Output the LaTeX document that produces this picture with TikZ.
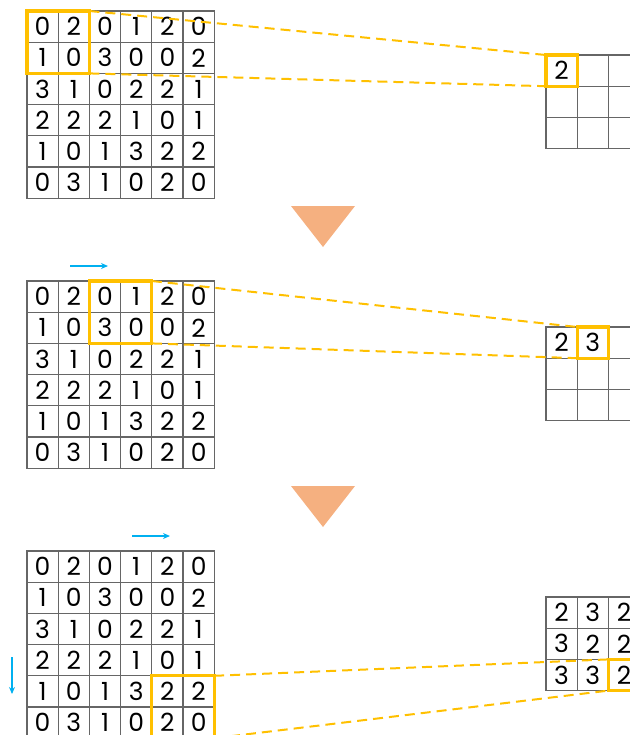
\documentclass[tikz,border=0pt]{standalone}
\usepackage{fontspec}
\setmainfont{Poppins}
\usetikzlibrary{arrows.meta}

\definecolor{winyellow}{RGB}{255,192,0}
\definecolor{slideblue}{RGB}{0,176,240}
\definecolor{peach}{RGB}{245,176,128}

\tikzset{
  cell/.style={draw=gray!80!black, line width=0.55pt, minimum size=15.6pt,
    inner sep=0pt, outer sep=0pt, font=\fontsize{12.5}{14}\selectfont},
  window/.style={draw=winyellow, line width=1.6pt},
  link/.style={draw=winyellow, line width=1pt, dash pattern=on 5pt off 3pt},
  slide/.style={draw=slideblue, line width=1pt, -{Stealth[length=3.5pt,width=3pt]}},
  stepdown/.style={fill=peach},
}

% 6x6 input grid: #1 = name, #2 = top edge
\newcommand{\inputgrid}[2]{%
  \foreach \row [count=\r] in {{0,2,0,1,2,0},{1,0,3,0,0,2},{3,1,0,2,2,1},
                               {2,2,2,1,0,1},{1,0,1,3,2,2},{0,3,1,0,2,0}}
    \foreach \v [count=\c] in \row
      \node[cell] (#1-\r-\c) at ({27+(\c-0.5)*31.2}, {#2+(\r-0.5)*31.2}) {\v};
}

% 3x3 output grid: #1 = name, #2 = top edge, #3 = rows
\newcommand{\outputgrid}[3]{%
  \foreach \row [count=\r] in {#3}
    \foreach \v [count=\c] in \row
      \node[cell] (#1-\r-\c) at ({546+(\c-0.5)*31.2}, {#2+(\r-0.5)*31.2}) {\v};
}

\begin{document}
\begin{tikzpicture}[x=0.5pt, y=-0.5pt]
            \useasboundingbox (0,0) rectangle (630,735);
            \clip (0,0) rectangle (630,735);

            % First step: window at the top left corner
            \inputgrid{in1}{11}
            \outputgrid{out1}{55}{{2,{},{}},{{},{},{}},{{},{},{}}}

            \draw[link] (in1-1-2.north east) -- (out1-1-1.north west);
            \draw[link] (in1-2-2.south east) -- (out1-1-1.south west);
            \draw[window] (in1-1-1.north west) rectangle (in1-2-2.south east);
            \draw[window] (out1-1-1.north west) rectangle (out1-1-1.south east);

            \fill[stepdown] (291,206) -- (355,206) -- (323,247) -- cycle;

            % Second step: window slides one cell to the right
            \coordinate (s2a) at (70,266);
            \coordinate (s2b) at (108,266);
            \draw[slide] (s2a) -- (s2b);

            \inputgrid{in2}{281}
            \outputgrid{out2}{327}{{2,3,{}},{{},{},{}},{{},{},{}}}

            \draw[link] (in2-1-4.north east) -- (out2-1-2.north west);
            \draw[link] (in2-2-4.south east) -- (out2-1-2.south west);
            \draw[window] (in2-1-3.north west) rectangle (in2-2-4.south east);
            \draw[window] (out2-1-2.north west) rectangle (out2-1-2.south east);

            \fill[stepdown] (291,486) -- (355,486) -- (323,527) -- cycle;

            % Last step: window at the bottom right corner
            \coordinate (s3a) at (132,536);
            \coordinate (s3b) at (170,536);
            \draw[slide] (s3a) -- (s3b);
            \coordinate (s3c) at (12,657);
            \coordinate (s3d) at (12,694);
            \draw[slide] (s3c) -- (s3d);

            \inputgrid{in3}{551}
            \outputgrid{out3}{597}{{2,3,2},{3,2,2},{3,3,2}}

            \draw[link] (in3-5-6.north east) -- (out3-3-3.north west);
            \draw[link] (in3-6-6.south east) -- (out3-3-3.south west);
            \draw[window] (in3-5-5.north west) rectangle (in3-6-6.south east);
            \draw[window] (out3-3-3.north west) rectangle (out3-3-3.south east);

        \end{tikzpicture}
\end{document}
